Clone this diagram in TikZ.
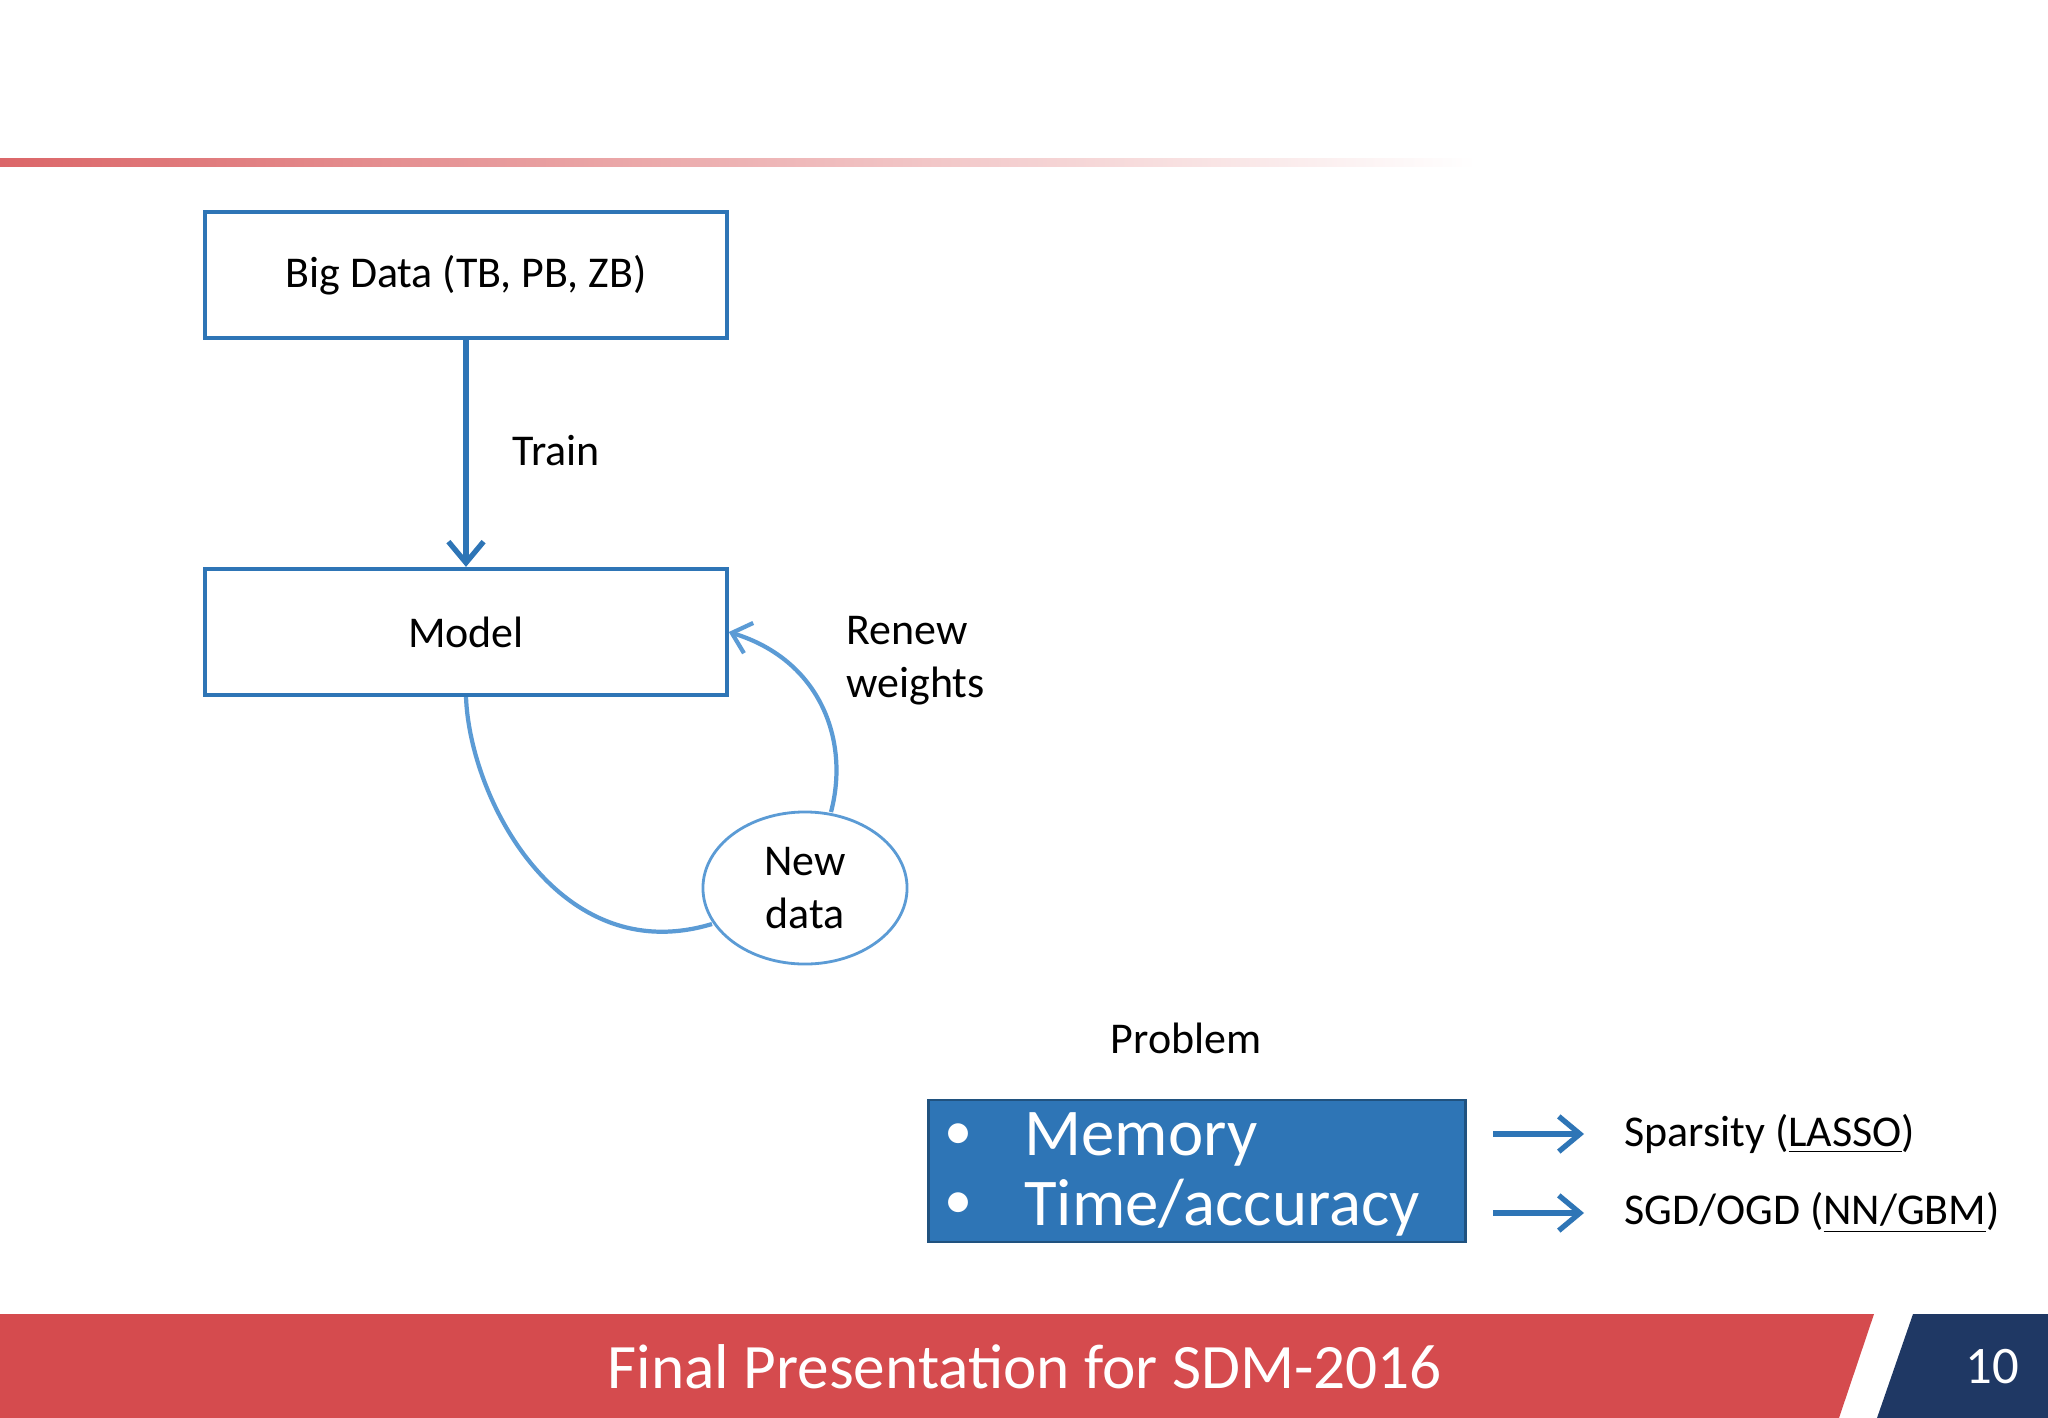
\documentclass[tikz,border=0pt]{standalone}
\usepackage{fontspec}
\setmainfont{Carlito}
\usetikzlibrary{arrows.meta,shapes.geometric}
\definecolor{boxblue}{HTML}{2E75B6}
\definecolor{lblue}{HTML}{5B9BD5}
\definecolor{fred}{HTML}{D54B4E}
\definecolor{navy}{HTML}{1F3864}
\begin{document}
\begin{tikzpicture}[x=0.01cm,y=-0.01cm,
  box/.style={draw=boxblue,line width=1.2pt,minimum width=5.21cm,minimum height=1.26cm,font=\fontsize{12.5}{14}\selectfont},
  lbl/.style={font=\fontsize{12.5}{15}\selectfont,align=left},
  arr/.style={-{Straight Barb[length=6pt,width=10pt]},line width=1.5pt,draw=boxblue}]
\useasboundingbox (0,0) rectangle (2048,1418);
\fill[white] (0,0) rectangle (2048,1418);
\shade[left color=fred!85,right color=white] (0,158) rectangle (1476,166);
\node[box] (big) at (466,275) {Big Data (TB, PB, ZB)};
\node[box] (model) at (466,632) {Model};
\draw[arr] (big.south) -- (model.north);
\node[lbl,anchor=west] (train) at (500,451) {Train};
\node[draw=lblue,line width=0.8pt,ellipse,minimum width=2.04cm,minimum height=1.52cm,align=center,font=\fontsize{12.5}{15}\selectfont] (nd) at (805,888) {New\\data};
\draw[lblue,line width=1.2pt] (model.south) .. controls (470,800) and (560,970) .. (712,924);
\draw[lblue,line width=1.2pt,-{Straight Barb[length=5pt,width=9pt]}] (831,812) .. controls (850,740) and (820,660) .. (model.east);
\node[lbl,anchor=west] (rw) at (834,661) {Renew\\weights};
\node[lbl] (prob) at (1186,1038) {Problem};
\node[fill=boxblue,draw=boxblue!70!black,line width=0.8pt,minimum width=5.36cm,minimum height=1.42cm] (pb) at (1197,1171) {};
\node[text=white,anchor=west,font=\fontsize{19}{23}\selectfont] (m) at (1012,1139) {Memory};
\node[text=white,anchor=west,font=\fontsize{19}{23}\selectfont] (t) at (1012,1208) {Time/accuracy};
\node[text=white,font=\fontsize{16}{18}\selectfont] (b1) at (958,1137) {•};
\node[text=white,font=\fontsize{16}{18}\selectfont] (b2) at (958,1206) {•};
\coordinate (a1s) at (1493,1134); \coordinate (a1e) at (1584,1134);
\coordinate (a2s) at (1493,1213); \coordinate (a2e) at (1584,1213);
\draw[arr] (a1s) -- (a1e);
\draw[arr] (a2s) -- (a2e);
\node[lbl,anchor=west] (sp) at (1612,1134) {Sparsity (\underline{LASSO})};
\node[lbl,anchor=west] (sg) at (1612,1213) {SGD/OGD (\underline{NN/GBM})};
\fill[fred] (0,1314) -- (1874,1314) -- (1839,1418) -- (0,1418) -- cycle;
\fill[navy] (1913,1314) -- (2048,1314) -- (2048,1418) -- (1877,1418) -- cycle;
\node[text=white,font=\fontsize{18}{22}\selectfont] (title) at (1025,1367) {Final Presentation for SDM-2016};
\node[text=white,font=\fontsize{15}{18}\selectfont] (pg) at (1992,1367) {10};
\end{tikzpicture}
\end{document}
